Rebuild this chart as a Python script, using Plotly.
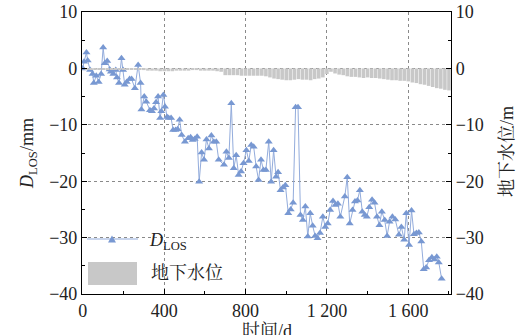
import plotly.graph_objects as go

# InSAR line-of-sight deformation time series (days, mm)
los_days = [0, 6, 18, 24, 36, 48, 54, 66, 78, 90, 100, 108, 120, 132, 138, 150, 162, 168,
            178, 190, 198, 206, 216, 230, 240, 256, 272, 284, 288, 302, 312, 330, 340, 350,
            360, 370, 380, 386, 396, 404, 414, 422, 434, 444, 456, 466, 476, 486, 502, 518,
            530, 540, 550, 562, 572, 584, 596, 608, 620, 632, 644, 656, 668, 694, 706, 718,
            730, 742, 754, 766, 778, 790, 804, 816, 828, 840, 852, 864, 876, 888, 900, 914,
            926, 938, 950, 960, 972, 984, 996, 1010, 1022, 1034, 1046, 1058, 1070, 1082,
            1094, 1106, 1118, 1130, 1142, 1154, 1166, 1180, 1192, 1204, 1216, 1230, 1242,
            1254, 1266, 1288, 1300, 1312, 1326, 1338, 1350, 1362, 1374, 1386, 1396, 1408,
            1422, 1434, 1446, 1458, 1470, 1484, 1496, 1508, 1522, 1536, 1554, 1566, 1580,
            1590, 1604, 1616, 1628, 1640, 1652, 1664, 1676, 1688, 1702, 1716, 1728, 1740,
            1750, 1764]
los_mm = [0.0, 1.2, 2.8, 1.4, -0.3, -1.0, -2.6, -1.3, -2.4, -1.0, 3.7, 0.9, 1.3, -0.2,
          -0.6, -1.0, -0.3, -1.6, -2.6, 1.8, -0.3, -2.9, -2.4, -1.9, -1.9, -3.5, 0.6, -2.6,
          -7.3, -5.0, -5.9, -7.4, -7.6, -7.1, -6.0, -5.0, -8.8, -7.6, -4.7, -6.8, -8.6, -8.8,
          -8.8, -10.9, -10.9, -10.8, -9.1, -11.8, -13.0, -12.4, -12.2, -12.7, -12.5, -12.1,
          -20.1, -14.9, -16.2, -12.6, -14.2, -11.9, -13.0, -13.0, -16.2, -17.1, -14.8, -15.9,
          -6.2, -17.7, -15.4, -18.9, -18.3, -16.8, -14.5, -16.4, -13.6, -13.9, -17.4, -19.8,
          -16.2, -18.0, -18.0, -13.0, -20.1, -14.5, -19.2, -18.4, -21.6, -21.1, -20.7, -25.7,
          -25.0, -23.8, -6.9, -6.9, -26.0, -26.9, -24.5, -29.8, -25.7, -27.9, -29.7, -30.1,
          -29.2, -26.3, -28.1, -27.5, -25.1, -23.5, -24.2, -24.0, -26.3, -22.7, -19.3, -27.5,
          -25.1, -23.6, -23.4, -21.6, -25.4, -26.0, -26.3, -24.6, -23.3, -23.8, -26.3, -27.8,
          -25.4, -26.9, -29.7, -27.2, -26.3, -26.8, -29.5, -28.1, -30.4, -25.7, -31.3, -25.2,
          -29.4, -29.2, -29.1, -30.7, -35.6, -35.3, -34.0, -33.5, -33.9, -33.4, -34.4, -37.3]

# Groundwater level change (days, m)
gw_days = [0, 20, 40, 60, 80, 100, 120, 140, 160, 180, 200, 220, 240, 260, 280, 300, 320,
           340, 360, 380, 400, 420, 440, 460, 480, 500, 520, 540, 560, 580, 600, 620, 640,
           660, 680, 700, 720, 740, 760, 780, 800, 820, 840, 860, 880, 900, 920, 940, 960,
           980, 1000, 1020, 1040, 1060, 1080, 1100, 1120, 1140, 1160, 1180, 1200, 1220,
           1240, 1260, 1280, 1300, 1320, 1340, 1360, 1380, 1400, 1420, 1440, 1460, 1480,
           1500, 1520, 1540, 1560, 1580, 1600, 1620, 1640, 1660, 1680, 1700, 1720, 1740,
           1760, 1780, 1800]
gw_m = [-0.1, -0.2, -0.2, -0.2, -0.2, -0.2, -0.2, -0.2, -0.2, -0.2, -0.2, -0.2, -0.2, -0.2,
        -0.2, -0.3, -0.4, -0.4, -0.4, -0.5, -0.5, -0.5, -0.5, -0.4, -0.4, -0.4, -0.4, -0.3,
        -0.3, -0.4, -0.4, -0.4, -0.4, -0.5, -0.6, -1.2, -1.2, -1.2, -1.2, -1.3, -1.3, -1.3,
        -1.3, -1.3, -1.3, -1.4, -1.6, -1.8, -1.9, -2.0, -2.1, -2.1, -2.0, -1.9, -2.0, -2.0,
        -2.1, -1.9, -1.8, -1.6, -1.0, -0.6, -0.9, -1.1, -1.2, -1.4, -1.5, -1.5, -1.6, -1.7,
        -1.6, -1.7, -1.7, -1.8, -1.9, -2.0, -2.1, -2.1, -2.2, -2.2, -2.3, -2.5, -2.6, -2.8,
        -2.9, -3.1, -3.3, -3.5, -3.6, -3.8, -3.9]

x_tick_vals = [0, 400, 800, 1200, 1600]
x_tick_text = ["0", "400", "800", "1 200", "1 600"]
y_tick_vals = [-40, -30, -20, -10, 0, 10]

SERIF = "Liberation Serif, Noto Serif CJK SC, Noto Sans CJK SC, serif"
BLUE = "#7898d2"
BLUE_LINE = "#93acdc"
GREY = "#c8c8c8"
TEXT = "#222"

fig = go.Figure()

fig.add_trace(go.Bar(
    x=gw_days, y=gw_m, yaxis="y2", marker=dict(color=GREY, line=dict(width=0)),
    name="地下水位", showlegend=False,
))

fig.add_trace(go.Scatter(
    x=los_days, y=los_mm, mode="lines+markers",
    line=dict(color=BLUE_LINE, width=1),
    marker=dict(symbol="triangle-up", size=7, color=BLUE),
    name="D<sub>LOS</sub>", showlegend=False,
))

axis_common = dict(
    showline=True, linecolor="black", linewidth=1.2,
    ticks="inside", ticklen=5, tickwidth=1, tickcolor="black",
    tickfont=dict(family=SERIF, size=18, color=TEXT),
    automargin=False,
)

fig.update_layout(
    width=527, height=335,
    margin=dict(l=82, r=76, t=12, b=41),
    paper_bgcolor="white", plot_bgcolor="white",
    bargap=0.12,
    font=dict(family=SERIF, size=18, color=TEXT),
    xaxis=dict(
        range=[-4, 1810], tickvals=x_tick_vals, ticktext=x_tick_text,
        showgrid=True, gridcolor="#8a8a8a", griddash="dot", gridwidth=1,
        zeroline=False, mirror=True,
        minor=dict(dtick=200, tick0=0, ticks="inside", ticklen=3, tickcolor="black", showgrid=False),
        **axis_common,
    ),
    yaxis=dict(
        range=[-40, 10], tickvals=y_tick_vals,
        showgrid=True, gridcolor="#8a8a8a", griddash="dot", gridwidth=1,
        zeroline=False,
        minor=dict(dtick=5, tick0=0, ticks="inside", ticklen=3, tickcolor="black", showgrid=False),
        title=dict(text="<i>D</i><sub>LOS</sub>/mm", font=dict(family=SERIF, size=18), standoff=10),
        **axis_common,
    ),
    yaxis2=dict(
        range=[-40, 10], tickvals=y_tick_vals, overlaying="y", side="right",
        showgrid=False, zeroline=False,
        minor=dict(dtick=5, tick0=0, ticks="inside", ticklen=3, tickcolor="black", showgrid=False),
        **axis_common,
    ),
)


def px_x(p):
    return (p - 82) / 369.0


def px_y(p):
    return (294 - p) / 282.0


# Axis titles placed near the figure edges
fig.add_annotation(xref="paper", yref="paper", x=px_x(267), y=px_y(319),
                   text="时间/d", showarrow=False, xanchor="center", yanchor="top",
                   font=dict(family=SERIF, size=18, color=TEXT))
fig.add_annotation(xref="paper", yref="paper", x=px_x(507), y=px_y(152),
                   text="地下水位/m", showarrow=False, textangle=-90,
                   xanchor="center", yanchor="middle",
                   font=dict(family=SERIF, size=18, color=TEXT))

# Hand-drawn legend in the lower-left corner of the plot area
fig.add_shape(type="line", xref="paper", yref="paper",
              x0=px_x(87), x1=px_x(138), y0=px_y(239), y1=px_y(239),
              line=dict(color=BLUE_LINE, width=1))
fig.add_shape(type="path", xref="paper", yref="paper",
              path=f"M {px_x(108)} {px_y(242.5)} L {px_x(116)} {px_y(242.5)} L {px_x(112)} {px_y(235.5)} Z",
              fillcolor=BLUE, line=dict(width=0))
fig.add_annotation(xref="paper", yref="paper", x=px_x(147), y=px_y(241),
                   text="<i>D</i><sub>LOS</sub>", showarrow=False, xanchor="left", yanchor="middle",
                   font=dict(family=SERIF, size=18, color=TEXT))
fig.add_shape(type="rect", xref="paper", yref="paper",
              x0=px_x(88), x1=px_x(137), y0=px_y(285), y1=px_y(262),
              fillcolor=GREY, line=dict(width=0))
fig.add_annotation(xref="paper", yref="paper", x=px_x(149), y=px_y(273),
                   text="地下水位", showarrow=False, xanchor="left", yanchor="middle",
                   font=dict(family=SERIF, size=18, color=TEXT))

fig.write_html("out.html")
